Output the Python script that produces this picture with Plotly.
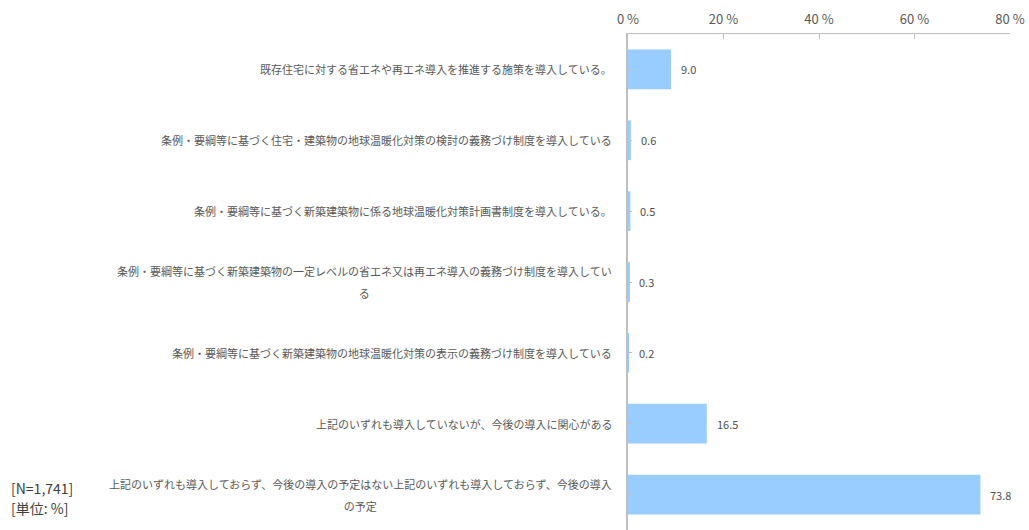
import plotly.graph_objects as go

categories = [
    "既存住宅に対する省エネや再エネ導入を推進する施策を導入している。",
    "条例・要綱等に基づく住宅・建築物の地球温暖化対策の検討の義務づけ制度を導入している",
    "条例・要綱等に基づく新築建築物に係る地球温暖化対策計画書制度を導入している。",
    "条例・要綱等に基づく新築建築物の一定レベルの省エネ又は再エネ導入の義務づけ制度を導入してい<br>る",
    "条例・要綱等に基づく新築建築物の地球温暖化対策の表示の義務づけ制度を導入している",
    "上記のいずれも導入していないが、今後の導入に関心がある",
    "上記のいずれも導入しておらず、今後の導入の予定はない上記のいずれも導入しておらず、今後の導入<br>の予定",
]
values = [9.0, 0.6, 0.5, 0.3, 0.2, 16.5, 73.8]
value_labels = ["9.0", "0.6", "0.5", "0.3", "0.2", "16.5", "73.8"]
tick_vals = [0, 20, 40, 60, 80]
tick_text = ["0 %", "20 %", "40 %", "60 %", "80 %"]
note_lines = ["[N=1,741]", "[単位: %]"]

FONT = "Noto Sans CJK JP"
ids = list(range(len(categories)))

fig = go.Figure()
fig.add_trace(go.Bar(
    x=values, y=ids, orientation="h",
    marker=dict(color="#99CCFF", line=dict(width=0)),
    hoverinfo="skip",
))

for i, (cat, v, t) in enumerate(zip(categories, values, value_labels)):
    lines = cat.split("<br>")
    txt = "<br>".join("<span style='font-size:11px'>%s</span>" % ln for ln in lines)
    fig.add_annotation(
        x=0, y=i, xref="x", yref="y", text=txt, showarrow=False,
        xanchor="right", yanchor="middle", align="center", xshift=-14,
        font=dict(family=FONT, size=17, color="#595959"),
    )
    fig.add_annotation(
        x=v, y=i, xref="x", yref="y", text=t, showarrow=False,
        xanchor="left", yanchor="middle", xshift=8,
        font=dict(family=FONT, size=11, color="#505050"),
    )

for k, line in enumerate(note_lines):
    fig.add_annotation(
        x=0, y=0, xref="paper", yref="paper", text=line,
        showarrow=False, xanchor="left", yanchor="middle", align="left",
        xshift=-619, yshift=42 - 20 * k,
        font=dict(family=FONT, size=14, color="#404040"),
    )

fig.update_layout(
    width=1029, height=530,
    margin=dict(l=628, r=19, t=34, b=0, autoexpand=False),
    paper_bgcolor="white", plot_bgcolor="white",
    showlegend=False, bargap=0.44,
    font=dict(family=FONT),
)
fig.update_xaxes(
    side="top", range=[0, 80], tickvals=tick_vals, ticktext=tick_text,
    showgrid=False, zeroline=False, showline=True, linecolor="#BFBFBF", linewidth=1,
    ticks="inside", ticklen=5, tickcolor="#BFBFBF", ticklabelstandoff=4,
    tickfont=dict(family=FONT, size=13, color="#595959"),
)
fig.update_yaxes(
    range=[len(categories) - 0.5, -0.5], tickvals=ids, showticklabels=False,
    showgrid=False, zeroline=False, showline=True, linecolor="#BFBFBF", linewidth=2,
    ticks="inside", ticklen=4, tickcolor="#BFBFBF", tickson="boundaries",
)

fig.write_html(
    "out.html",
    config={"displayModeBar": False},
    post_script="document.body.style.margin='0';document.body.style.overflow='hidden';",
)
